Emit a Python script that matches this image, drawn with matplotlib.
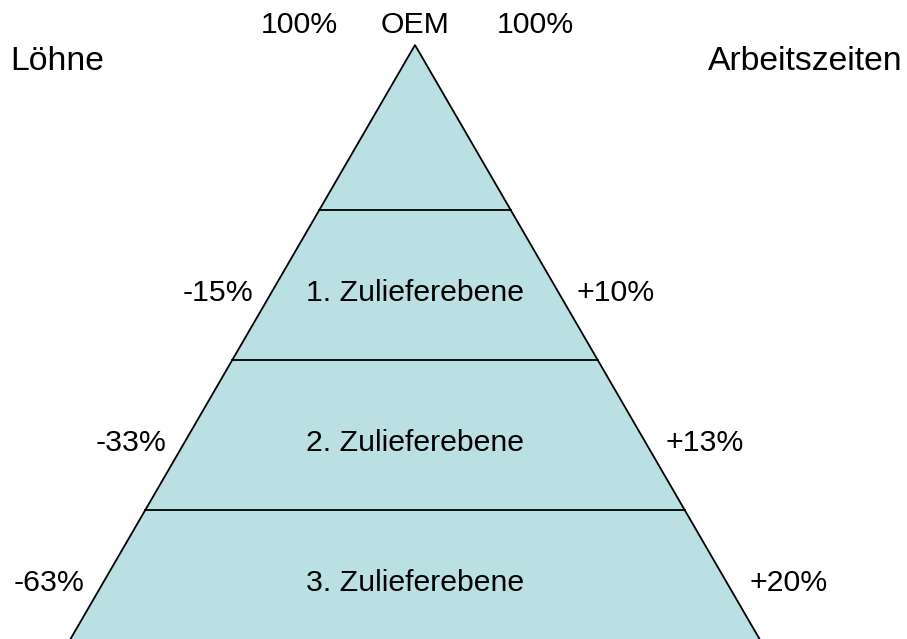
import matplotlib.pyplot as plt
from matplotlib.patches import Polygon

plt.rcParams["font.family"] = ["Liberation Sans", "DejaVu Sans"]

# tiers of the supply pyramid (top to bottom)
tiers = ["OEM", "1. Zulieferebene", "2. Zulieferebene", "3. Zulieferebene"]
loehne = ["100%", "-15%", "-33%", "-63%"]
arbeitszeiten = ["100%", "+10%", "+13%", "+20%"]

# geometry in pixel space (y grows downward)
W, H = 907, 639
apex = (415, 45)
slope = 0.58          # half width growth per pixel of depth
dividers = [210, 360, 510]
label_y = [25, 293, 443, 583]
fill = "#bbe0e3"
fs = 21.8
fs_head = 24.3


def half_width(y):
    return (y - apex[1]) * slope


fig = plt.figure(figsize=(W / 100, H / 100), dpi=100)
ax = fig.add_axes([0, 0, 1, 1])
ax.set_xlim(0, W)
ax.set_ylim(H, 0)
ax.axis("off")

yb = H + 5
tri = Polygon([apex, (apex[0] - half_width(yb), yb), (apex[0] + half_width(yb), yb)],
              closed=True, facecolor=fill, edgecolor="black", lw=1.3)
ax.add_patch(tri)

for y in dividers:
    hw = half_width(y)
    ax.plot([apex[0] - hw, apex[0] + hw], [y, y], color="black", lw=1.3)

# top row
ax.text(apex[0], label_y[0], tiers[0], ha="center", va="center", fontsize=fs)
ax.text(299, label_y[0], loehne[0], ha="center", va="center", fontsize=fs)
ax.text(535, label_y[0], arbeitszeiten[0], ha="center", va="center", fontsize=fs)

for i, (name, lo, ar, y) in enumerate(zip(tiers[1:], loehne[1:], arbeitszeiten[1:], label_y[1:])):
    hw = half_width(y)
    ax.text(apex[0], y, name, ha="center", va="center", fontsize=fs)
    ax.text(apex[0] - hw - 18, y, lo, ha="right", va="center", fontsize=fs)
    ax.text(apex[0] + hw + 18 + 2 * i, y, ar, ha="left", va="center", fontsize=fs)

ax.text(10, 70, "Löhne", ha="left", va="baseline", fontsize=fs_head)
ax.text(903, 70, "Arbeitszeiten", ha="right", va="baseline", fontsize=fs_head)

fig.savefig("out.png", dpi=100)
